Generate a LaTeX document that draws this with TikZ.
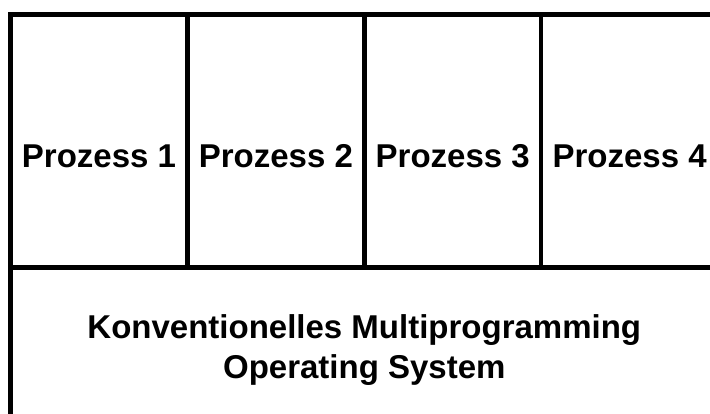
\documentclass[tikz,border=0pt]{standalone}
\usepackage{fontspec}
\setmainfont{Liberation Sans}
\usepackage{tikz}

\begin{document}
\begin{tikzpicture}[x=1pt,y=-1pt,
	cell/.style={rectangle,draw,line width=4.5pt,minimum width=176.9pt,minimum height=253pt,inner sep=0pt},
	txt/.style={font=\fontsize{33}{40}\selectfont\bfseries,align=center,inner sep=0pt}]
	\useasboundingbox (0,0) rectangle (710,414);
	\clip (0,0) rectangle (710,414);

	\node[cell] (p1) at (98.95,141) {};
	\node[cell] (p2) at (275.85,141) {};
	\node[cell] (p3) at (452.75,141) {};
	\node[cell] (p4) at (629.65,141) {};
	\node[txt] (t1) at (98.95,156) {Prozess 1};
	\node[txt] (t2) at (275.85,156) {Prozess 2};
	\node[txt] (t3) at (452.75,156) {Prozess 3};
	\node[txt] (t4) at (629.65,156) {Prozess 4};

	\node[cell,minimum width=707.6pt,minimum height=164pt] (os) at (364.3,349.5) {};
	\node[txt] (ost) at (364.3,350.5) {Konventionelles Multiprogramming\\Operating System};
\end{tikzpicture}
\end{document}
